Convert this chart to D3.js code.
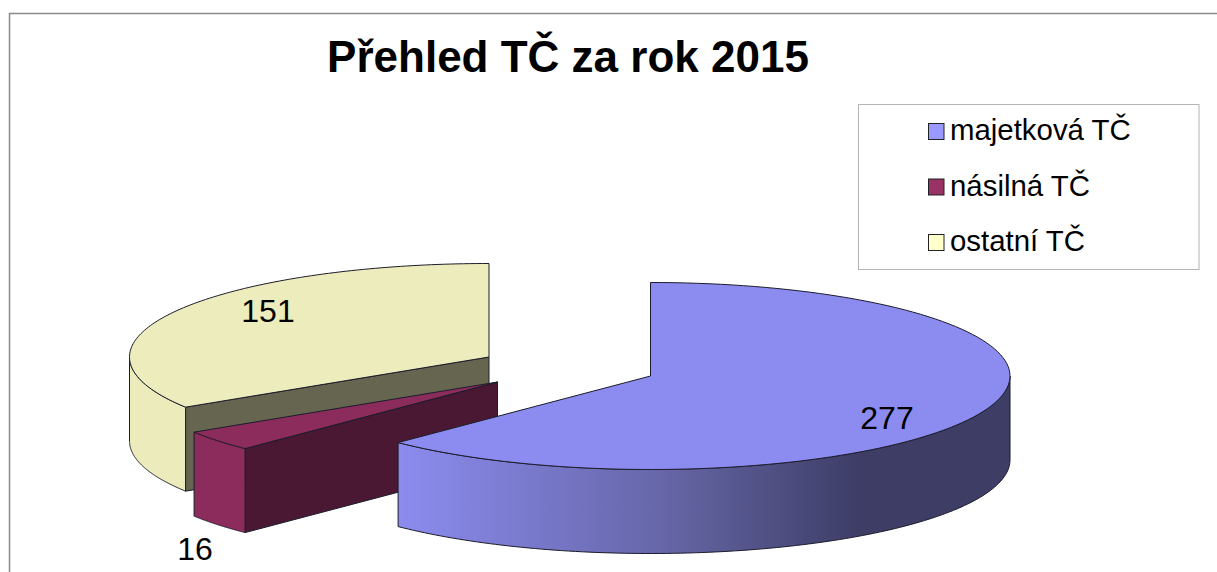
<!DOCTYPE html>
<html>
<head>
<meta charset="utf-8">
<script src="https://cdn.jsdelivr.net/npm/d3@7"></script>
<style>
    html, body { margin: 0; padding: 0; background: #fff; overflow: hidden; }
    text { font-family: "Liberation Sans", Arial, sans-serif; fill: #000; }
</style>
</head>
<body>
<svg id="chart"></svg>
<script>
const width = 1217, height = 572;

// Data
const categories = ["majetková TČ", "násilná TČ", "ostatní TČ"];
const values = [277, 16, 151];
const chartTitle = "Přehled TČ za rok 2015";

// Colours per category: legend swatch, top/front face, dark radial wall
const swatchColors = ["#9999ff", "#993366", "#ffffcc"];
const topColors = ["#8c8cf0", "#8c2c5c", "#ececbc"];
const wallDark = ["#3d3d66", "#4a1832", "#666650"];

// Where each exploded slice has its apex, and label positions (category order)
const apexX = [650.5, 497.5, 489];
const apexY = [376, 382, 357];
const labelX = [887, 195, 268];
const labelY = [429, 560, 322];

const rx = 359.5, ry = 93.5, depth = 84;

const svg = d3.select("#chart").attr("width", width).attr("height", height);

// Gradient for the blue rim, runs left to right across the rim
const defs = svg.append("defs");
const blueGrad = defs.append("linearGradient").attr("id", "blueRim")
    .attr("gradientUnits", "userSpaceOnUse")
    .attr("x1", 398).attr("x2", 860).attr("y1", 0).attr("y2", 0);
blueGrad.append("stop").attr("offset", "0%").attr("stop-color", "#8c8cf0");
blueGrad.append("stop").attr("offset", "60%").attr("stop-color", "#6464a4");
blueGrad.append("stop").attr("offset", "100%").attr("stop-color", "#3d3d66");

// Chart border (open at right and bottom, the picture is cropped there)
svg.append("path")
    .attr("d", `M9.5,${height}V13.5H${width}`)
    .attr("fill", "none").attr("stroke", "#8a8a8a").attr("stroke-width", 1.5);

// Title
svg.append("text")
    .attr("x", 568).attr("y", 71.5)
    .attr("text-anchor", "middle")
    .style("font-size", "44px").style("font-weight", "bold")
    .text(chartTitle);

// Legend
const legend = svg.append("g");
legend.append("rect")
    .attr("x", 858.5).attr("y", 104.5).attr("width", 340.5).attr("height", 165)
    .attr("fill", "#fff").attr("stroke", "#b4b4b4").attr("stroke-width", 1);

const legendY = d3.scalePoint().domain(categories).range([140, 251]);
const legendRow = legend.selectAll("g").data(categories).enter().append("g")
    .attr("transform", d => `translate(0,${legendY(d)})`);
legendRow.append("rect")
    .attr("x", 928.5).attr("y", -16.5).attr("width", 15.5).attr("height", 16)
    .attr("fill", (d, i) => swatchColors[i])
    .attr("stroke", "#222").attr("stroke-width", 1);
legendRow.append("text")
    .attr("x", 950).attr("y", 0)
    .style("font-size", "29.4px")
    .text(d => d);

// Pie angles, clockwise from the top
const arcs = d3.pie().sort(null)(values);

// Projects a pie angle onto the tilted ellipse around the slice apex
const ellipseX = d3.scaleLinear().domain([-1, 1]).range([-rx, rx]);
const ellipseY = d3.scaleLinear().domain([-1, 1]).range([ry, -ry]);
function project(i, a, drop = 0) {
    return [apexX[i] + ellipseX(Math.sin(a)), apexY[i] + ellipseY(Math.cos(a)) + drop];
}
function rimPoints(i, a0, a1, drop = 0) {
    return d3.range(0, 121).map(k => project(i, a0 + (a1 - a0) * k / 120, drop));
}
const line = d3.line();

// The part of the rim that faces the viewer is where cos(a) < 0, (90deg..270deg)
function drawSlice(i, rimFill) {
    const d = arcs[i];
    const g = svg.append("g").attr("stroke", "#1c1c2c").attr("stroke-width", 1).attr("stroke-linejoin", "round");
    const apex = [apexX[i], apexY[i]];

    // dark cut face on the side that turns towards us
    if (i !== 0) {
        const p = project(i, d.startAngle), q = project(i, d.startAngle, depth);
        g.append("path")
            .attr("d", line([apex, p, q, [apex[0], apex[1] + depth]]) + "Z")
            .attr("fill", wallDark[i]);
    }

    // outer rim
    const from = Math.max(d.startAngle, Math.PI / 2);
    const to = Math.min(d.endAngle, Math.PI * 3 / 2);
    const rim = rimPoints(i, from, to).concat(rimPoints(i, to, from, depth));
    g.append("path").attr("d", line(rim) + "Z").attr("fill", rimFill);

    // top face
    const top = [apex].concat(rimPoints(i, d.startAngle, d.endAngle));
    g.append("path").attr("d", line(top) + "Z").attr("fill", topColors[i]);
}

drawSlice(2, "#ebebbc");
drawSlice(1, topColors[1]);
drawSlice(0, "url(#blueRim)");

// Value labels
svg.selectAll(".value").data(values).enter().append("text")
    .attr("class", "value")
    .attr("x", (d, i) => labelX[i]).attr("y", (d, i) => labelY[i])
    .attr("text-anchor", "middle")
    .style("font-size", "32px")
    .text(d => d);
</script>
</body>
</html>
